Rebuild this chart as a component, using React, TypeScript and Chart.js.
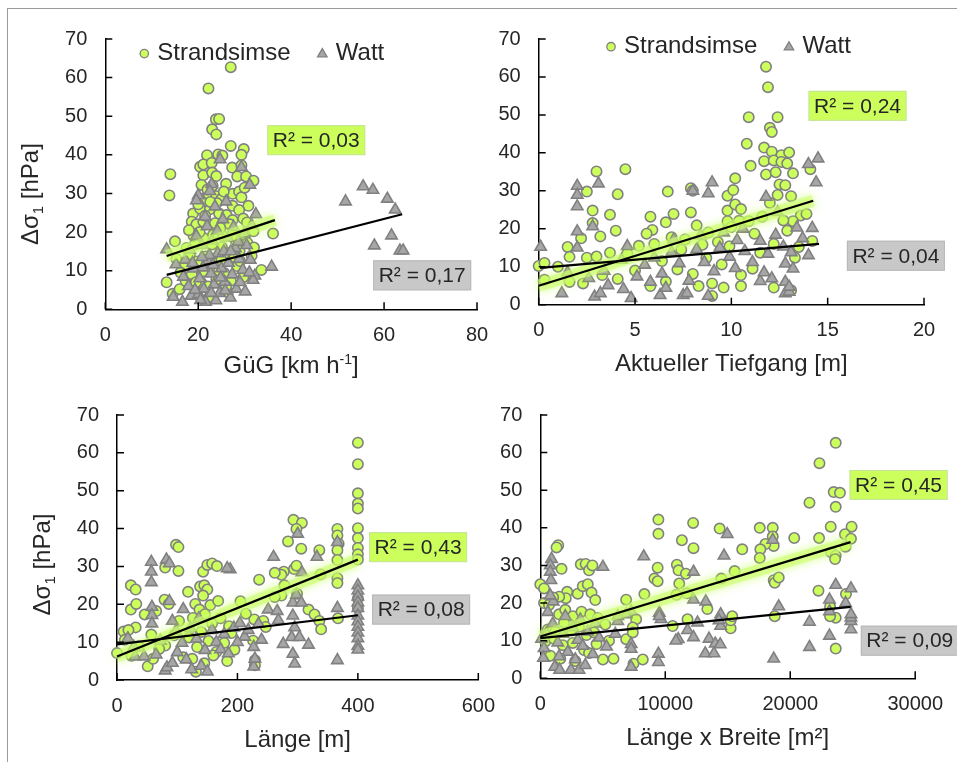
import React, { useEffect, useRef } from "react";
import { Chart, registerables } from "chart.js";
Chart.register(...registerables);

const FONT = '"Liberation Sans", Arial, Helvetica, sans-serif';
const TEXT = "#262626";
const LIME = "rgb(204,255,92)";
const MARK_BORDER = "#808080";
const WATT_FILL = "#a6a6a6";

type Pt = [number, number];

// ---------- Data: GüG [km h-1] ----------
const gugStrandsimse: Pt[] = [
  [27.0,62.7],[22.2,57.2],[23.8,49.2],[24.5,49.3],[23.0,46.6],[23.9,45.3],[27.0,42.3],[29.8,41.5],[21.9,39.9],[24.3,40.1],
  [25.2,39.8],[29.3,40.0],[20.4,36.9],[21.1,37.5],[22.9,37.9],[27.3,36.7],[29.3,37.3],[14.0,35.0],[21.1,34.7],[23.0,35.4],
  [23.9,34.5],[28.4,34.4],[30.3,34.4],[31.9,33.3],[13.8,29.5],[20.7,32.2],[23.1,32.0],[27.4,29.9],[28.8,30.5],[29.3,29.0],
  [30.8,26.8],[21.1,28.6],[22.2,29.9],[23.9,29.3],[25.0,28.6],[18.9,24.8],[20.4,26.1],[22.5,25.9],[24.5,24.8],[27.4,26.8],
  [28.8,25.7],[15.0,17.6],[18.6,22.7],[19.6,22.0],[21.1,22.7],[23.6,22.3],[26.1,24.4],[27.4,23.1],[29.7,23.5],[31.9,20.2],
  [36.1,19.6],[17.5,15.9],[19.3,16.8],[21.1,18.5],[23.2,19.3],[25.4,18.9],[27.5,20.2],[30.0,19.3],[15.3,13.0],[13.2,7.0],
  [33.6,10.2],[29.7,8.3],[14.5,4.0],[16.0,5.2],[17.3,7.3],[18.6,9.1],[20.7,6.8],[22.1,5.9],[23.9,7.7],[25.6,9.4],
  [27.0,7.4],[28.4,11.2],[19.8,12.4],[21.6,13.7],[24.1,12.1],[26.3,14.6],[28.9,15.1],[31.5,13.9],[17.0,11.3],[22.8,10.3],
  [25.1,16.1],[20.3,20.0],[24.8,21.1],[30.6,17.2],[32.0,16.0],[18.2,14.2],[22.4,3.2],[26.4,4.4],[16.2,9.5],[29.0,12.5],
  [20.0,27.2],[26.0,32.5],[24.0,27.5],[22.0,31.0],[25.5,30.5],[30.0,31.5],[21.5,24.2],[26.8,22.0],[19.0,19.0],[23.0,16.8],
  [28.0,18.0],[25.0,12.8],[27.8,13.5],[21.0,9.8],[24.5,10.0],[19.5,7.0],[26.0,6.0],[30.5,22.5],[18.0,20.5],[22.6,27.8]
];
const gugWatt: Pt[] = [
  [55.5,31.8],[57.6,30.9],[60.7,28.6],[51.7,27.9],[62.4,25.8],[61.6,19.1],[57.9,16.5],[63.4,15.2],[64.1,15.2],[35.8,11.0],
  [32.4,24.6],[31.1,32.2],[29.3,36.8],[24.7,38.8],[22.9,32.4],[20.0,29.5],[19.6,28.2],[13.2,15.5],[14.6,3.2],[16.6,1.9],
  [18.5,3.5],[20.1,3.9],[21.6,1.9],[23.8,2.3],[28.2,5.3],[32.2,8.7],[15.2,11.6],[16.8,8.4],[17.9,6.0],[19.0,10.5],
  [20.3,8.0],[21.2,5.3],[22.0,12.6],[22.7,9.2],[23.4,6.4],[24.2,14.5],[25.0,10.6],[25.7,7.1],[26.5,12.0],[27.3,9.0],
  [28.0,15.8],[28.8,13.0],[29.6,10.2],[30.4,16.6],[31.2,12.8],[31.8,7.6],[18.2,15.4],[19.6,19.0],[20.8,16.6],[21.9,21.5],
  [23.0,17.8],[24.1,20.3],[25.3,23.3],[26.4,18.5],[27.6,21.3],[28.6,17.5],[29.9,19.6],[31.5,21.8],[21.5,24.0],[23.6,26.6],
  [26.0,27.9],[22.4,14.0],[24.6,4.2],[26.9,3.0],[19.3,5.0],[17.2,12.8],[30.1,4.6],[25.5,15.0],[22.5,30.6],[20.8,13.5],
  [18.8,12.0],[21.0,10.8],[23.2,11.5],[24.8,8.2],[27.0,15.0],[29.0,7.0],[20.5,2.4],[22.8,4.2],[25.8,4.8],[31.0,9.5]
];
const gugTrendStrandsimse: Pt[] = [[13.2,13.8],[36.5,23.1]];
const gugTrendWatt: Pt[] = [[13.2,8.9],[63.9,24.6]];

// ---------- Data: Aktueller Tiefgang [m] ----------
const tiefgangStrandsimse: Pt[] = [
  [11.8,62.7],[11.9,57.3],[10.9,49.4],[12.4,49.4],[12.0,46.6],[12.1,45.5],[10.8,42.4],[11.7,41.4],[12.1,40.3],[12.6,39.4],
  [13.0,40.1],[11.7,37.8],[12.2,38.0],[12.6,37.6],[12.9,37.2],[11.0,36.6],[4.5,35.7],[3.0,35.1],[13.2,34.6],[14.1,35.7],
  [11.8,34.3],[12.3,34.9],[10.2,33.3],[12.5,31.7],[12.8,31.5],[13.1,28.6],[12.4,28.9],[2.5,29.8],[4.1,29.1],[6.7,29.8],
  [7.9,30.7],[8.0,30.0],[9.8,28.7],[10.1,30.2],[2.8,24.8],[3.7,23.7],[5.8,23.2],[7.9,24.3],[7.0,23.9],[6.6,21.7],
  [2.8,21.5],[3.2,18.0],[4.0,19.5],[5.9,19.7],[5.6,18.7],[1.5,15.2],[1.6,12.6],[2.2,17.5],[2.5,12.4],[3.0,12.7],
  [3.7,13.7],[9.8,24.8],[10.2,26.4],[10.5,25.2],[9.8,22.0],[10.4,22.1],[10.9,22.0],[0.0,10.2],[0.3,11.0],[1.0,10.0],
  [0.3,6.6],[1.6,6.0],[2.3,5.6],[5.8,4.9],[8.3,4.9],[9.0,2.3],[9.0,5.6],[9.6,4.5],[10.5,4.9],[12.2,4.5],
  [13.1,3.8],[13.6,23.5],[13.2,22.0],[12.7,22.2],[12.2,16.0],[13.5,15.2],[13.3,12.4],[14.2,16.8],[11.2,18.7],[11.1,9.5],
  [10.5,7.8],[4.6,13.5],[5.2,15.5],[6.0,16.0],[6.9,17.8],[7.4,14.5],[8.2,20.9],[8.8,19.0],[9.3,16.5],[9.9,15.4],
  [6.4,11.5],[7.2,9.3],[8.0,8.1],[8.7,12.3],[9.5,10.6],[5.0,9.0],[4.1,6.8],[3.3,7.8],[6.6,6.1],[7.6,17.2],
  [8.5,15.8],[10.0,20.5],[11.5,13.7],[12.9,19.5],[13.9,23.9],[12.0,26.8],[11.6,23.2]
];
const tiefgangWatt: Pt[] = [
  [14.5,38.5],[14.0,37.0],[14.4,32.2],[3.1,31.9],[2.0,31.3],[2.0,28.9],[2.0,25.9],[9.0,32.2],[8.8,29.3],[8.0,30.0],
  [11.8,28.4],[2.8,20.6],[2.0,19.3],[2.0,15.0],[0.1,15.2],[14.2,20.2],[14.0,13.0],[1.2,3.0],[2.9,2.1],[3.2,3.0],
  [3.6,5.1],[4.8,1.7],[6.3,2.5],[7.5,2.5],[7.7,3.0],[8.8,2.3],[11.5,6.2],[12.1,6.9],[12.8,10.8],[12.8,3.0],
  [13.0,3.4],[13.2,9.5],[12.8,6.0],[13.0,4.7],[1.5,8.5],[2.6,7.0],[3.4,8.9],[4.3,11.8],[4.6,15.4],[5.1,7.4],
  [5.5,10.5],[6.0,12.4],[6.4,8.2],[6.9,13.8],[7.3,10.9],[7.8,6.3],[8.2,14.6],[8.6,11.2],[9.1,8.8],[9.4,15.0],
  [9.9,12.6],[10.3,17.0],[10.7,14.1],[11.1,11.2],[11.5,16.8],[11.9,13.4],[12.3,18.4],[12.7,15.3],[13.1,13.8],[13.4,20.3],
  [10.6,20.0],[9.6,19.0],[7.0,17.1],[5.8,6.0],[6.6,4.4],[4.4,4.1],[10.2,9.6],[11.7,8.5],[13.7,17.5],[12.4,24.4],
  [8.4,18.2]
];
const tiefgangTrendStrandsimse: Pt[] = [[0,5.0],[14.25,27.4]];
const tiefgangTrendWatt: Pt[] = [[0.07,9.7],[14.55,16.0]];

// ---------- Data: Länge [m] ----------
const laengeStrandsimse: Pt[] = [
  [400,62.7],[400,57.0],[400,49.3],[400,46.6],[400,45.3],[400,40.1],[400,37.5],[400,34.9],[400,33.2],[400,31.8],
  [400,21.5],[400,19.0],[366,39.9],[366,38.2],[368,36.0],[366,34.3],[366,31.7],[366,26.9],[366,25.6],[367,16.3],
  [293,42.3],[307,41.5],[298,39.9],[284,36.6],[306,34.7],[336,34.3],[277,28.6],[273,27.8],[294,29.3],[298,30.2],
  [338,27.9],[278,25.0],[299,22.8],[273,22.3],[262,21.9],[236,26.5],[318,18.6],[328,17.3],[336,15.6],[339,13.4],
  [228,16.0],[243,15.6],[247,14.0],[226,10.4],[229,5.2],[229,3.9],[98,35.7],[102,35.1],[80,29.7],[102,28.8],
  [143,28.6],[150,30.4],[158,30.8],[166,30.1],[23,25.0],[31,23.9],[23,18.6],[32,20.1],[31,13.9],[11,12.8],
  [19,13.2],[46,17.3],[65,18.2],[79,21.2],[86,20.1],[0,7.1],[13,10.6],[24,6.4],[51,3.6],[60,5.6],
  [80,9.1],[103,15.6],[131,2.2],[183,5.0],[118,23.3],[130,20.1],[138,24.7],[145,25.0],[150,23.9],[143,22.3],
  [155,19.8],[168,20.9],[126,16.4],[137,18.6],[146,17.4],[158,14.9],[172,16.3],[186,14.2],[120,11.2],[133,8.7],
  [140,12.7],[152,10.3],[165,7.4],[178,9.8],[190,12.4],[110,6.0],[125,5.6],[145,4.4],[160,6.5],[95,11.8],
  [70,8.2],[57,12.0],[36,8.9],[205,20.8],[214,17.5],[195,8.0],[262,28.3]
];
const laengeWatt: Pt[] = [
  [400,25.0],[400,23.6],[400,22.0],[400,20.5],[400,19.0],[400,17.0],[400,15.5],[400,14.0],[400,12.5],[400,11.0],
  [400,9.0],[400,8.0],[366,5.2],[366,19.0],[366,36.4],[300,38.6],[307,28.4],[292,20.4],[298,22.5],[306,20.4],
  [292,17.0],[295,13.9],[290,11.3],[292,6.9],[295,4.3],[303,11.3],[318,9.3],[276,9.5],[332,32.5],[260,32.5],
  [251,18.6],[266,18.2],[268,15.8],[227,8.7],[227,3.5],[229,5.6],[188,29.2],[183,29.5],[57,31.2],[57,28.6],
  [57,25.8],[82,31.8],[87,30.8],[58,19.3],[58,17.1],[58,14.9],[87,20.8],[92,15.6],[28,8.8],[30,6.2],
  [80,2.5],[83,3.3],[92,4.5],[100,7.3],[108,9.8],[115,5.4],[124,2.8],[132,10.9],[140,3.7],[146,7.9],
  [150,2.2],[158,13.2],[165,10.0],[172,8.1],[178,12.1],[185,7.0],[194,13.8],[204,15.0],[212,11.4],[218,13.2],
  [235,14.8],[240,10.6],[122,13.6],[136,16.3],[110,18.7],[98,13.0],[72,10.4],[65,6.7],[45,6.2],[18,11.0],
  [200,10.0]
];
const laengeTrendStrandsimse: Pt[] = [[0,6.2],[400,31.8]];
const laengeTrendWatt: Pt[] = [[0,9.4],[400,17.1]];

// ---------- Data: Länge x Breite [m²] ----------
const flaecheStrandsimse: Pt[] = [
  [23640,62.6],[22340,57.2],[21540,46.7],[23480,49.5],[23980,49.3],[23640,45.6],[22310,37.3],[23240,40.3],[24910,40.3],[24380,38.3],
  [24860,37.1],[24430,35.0],[23270,33.5],[23640,32.6],[23590,31.7],[20320,37.3],[18600,40.0],[18600,37.7],[18680,35.2],[17560,40.0],
  [18010,35.7],[17610,34.3],[17560,32.0],[16160,34.3],[15550,28.5],[14480,26.5],[14350,39.8],[11330,36.7],[12230,41.3],[12260,34.6],
  [10930,30.2],[11060,28.7],[11650,27.8],[11120,25.2],[11730,22.6],[10900,22.2],[9450,42.2],[9450,38.4],[9390,29.4],[9130,26.5],
  [9390,25.8],[8330,22.4],[18680,26.1],[18760,25.4],[19080,26.8],[22260,23.3],[24460,22.4],[23190,19.0],[23640,16.1],[23190,16.5],
  [23640,7.9],[18760,16.5],[15230,13.3],[15230,15.4],[15360,16.5],[13370,18.4],[11780,15.7],[10590,13.9],[7670,15.7],[6870,20.9],
  [6870,10.4],[7400,13.5],[7400,12.2],[7460,3.9],[8200,5.0],[5860,5.2],[5010,5.0],[0,25.0],[300,23.9],[1430,35.4],
  [1300,34.8],[1700,29.1],[3240,30.3],[3630,30.4],[3900,28.7],[4170,30.0],[3000,22.5],[3400,24.5],[3800,25.0],[4100,22.8],
  [4400,20.8],[2150,23.0],[2040,21.3],[1510,21.7],[1030,21.5],[300,20.0],[700,19.5],[1500,17.0],[2000,18.2],[2600,16.5],
  [3300,17.7],[4000,17.0],[4600,16.0],[5200,14.3],[600,13.0],[1200,12.5],[1900,14.8],[2500,12.8],[3100,13.7],[3700,11.5],
  [4300,12.2],[400,9.8],[1100,10.5],[1800,8.8],[2600,9.4],[3500,7.5],[4500,9.1],[800,6.0],[1600,5.2],[2800,4.6],
  [3900,6.7],[5500,10.0]
];
const flaecheWatt: Pt[] = [
  [24860,13.0],[24860,15.2],[24860,16.1],[24860,17.0],[24860,23.9],[23640,24.8],[24430,20.0],[23140,20.9],[23140,17.8],[23140,11.3],
  [21540,15.0],[21540,8.3],[18680,5.2],[19080,19.1],[18600,36.8],[14960,38.3],[14700,32.6],[12260,28.3],[12260,20.9],[13240,20.4],
  [11780,12.8],[12260,10.9],[12580,14.8],[11040,10.4],[10850,10.0],[14430,17.0],[14430,13.9],[14300,15.4],[13500,10.5],[14000,9.2],
  [14400,9.0],[13200,6.6],[13900,6.6],[9520,17.4],[9660,15.7],[9520,16.5],[9450,6.5],[9450,4.3],[8280,32.4],[7270,3.0],
  [7270,9.1],[7270,7.8],[7270,17.8],[6870,17.0],[6200,15.2],[6200,16.5],[5010,29.6],[900,31.7],[800,30.0],[800,28.3],
  [850,26.1],[1030,20.4],[800,22.0],[300,8.0],[250,5.4],[1150,3.0],[1550,2.2],[2450,2.2],[3100,2.2],[500,12.0],
  [1000,14.5],[1400,9.5],[1800,11.8],[2200,7.0],[2600,13.5],[3000,10.2],[3400,8.6],[3800,12.4],[4200,6.4],[4700,10.8],
  [5300,8.4],[2000,16.5],[3200,15.6],[4400,14.5],[600,17.6],[1500,5.8],[2800,5.0],[3600,3.5],[100,10.5],[6000,11.8]
];
const flaecheTrendStrandsimse: Pt[] = [[0,11.1],[24830,36.2]];
const flaecheTrendWatt: Pt[] = [[0,10.7],[24830,19.0]];

// ---------- Labels ----------
const seriesNames = ["Strandsimse", "Watt"];
const r2Strandsimse = ["R² = 0,03", "R² = 0,24", "R² = 0,43", "R² = 0,45"];
const r2Watt = ["R² = 0,17", "R² = 0,04", "R² = 0,08", "R² = 0,09"];
const xMaxima = [80, 20, 600, 30000];
const xSteps = [20, 5, 200, 10000];
const yMax = 70;
const yStep = 10;

type Seg = { t: string; size: number; dy: number };

const yTitleSegs: Seg[] = [
  { t: "Δσ", size: 24, dy: 0 },
  { t: "1", size: 15, dy: 5 },
  { t: " [hPa]", size: 24, dy: 0 },
];
const xTitles: Seg[][] = [
  [{ t: "GüG [km h", size: 24, dy: 0 }, { t: "-1", size: 14, dy: -9 }, { t: "]", size: 24, dy: 0 }],
  [{ t: "Aktueller Tiefgang [m]", size: 24, dy: 0 }],
  [{ t: "Länge [m]", size: 24, dy: 0 }],
  [{ t: "Länge x Breite [m²]", size: 24, dy: 0 }],
];

interface PanelCfg {
  left: number; top: number; width: number; height: number;
  yAxisW: number; padRight: number; padTop: number; xAxisH: number;
  xMax: number; xStep: number;
  strand: Pt[]; watt: Pt[]; trendS: Pt[]; trendW: Pt[];
  r2S: string; r2W: string; r2SPos: Pt; r2WPos: Pt;
  xTitle: Seg[]; xTitleDy: number;
  yTitle: boolean; yTitleDy: number;
  legend: { dx: number; dy: number } | null;
}

const panels: PanelCfg[] = [
  {
    left: 9, top: 9, width: 500, height: 380, yAxisW: 96.3, padRight: 32, padTop: 24.7, xAxisH: 79.7,
    xMax: xMaxima[0], xStep: xSteps[0], strand: gugStrandsimse, watt: gugWatt,
    trendS: gugTrendStrandsimse, trendW: gugTrendWatt,
    r2S: r2Strandsimse[0], r2W: r2Watt[0], r2SPos: [45.4, 43.8], r2WPos: [68.2, 8.8],
    xTitle: xTitles[0], xTitleDy: 55, yTitle: true, yTitleDy: 20, legend: { dx: 39, dy: 14.6 },
  },
  {
    left: 490, top: 9, width: 467, height: 380, yAxisW: 48.7, padRight: 33, padTop: 28.3, xAxisH: 84.3,
    xMax: xMaxima[1], xStep: xSteps[1], strand: tiefgangStrandsimse, watt: tiefgangWatt,
    trendS: tiefgangTrendStrandsimse, trendW: tiefgangTrendWatt,
    r2S: r2Strandsimse[1], r2W: r2Watt[1], r2SPos: [16.55, 52.4], r2WPos: [18.54, 12.9],
    xTitle: xTitles[1], xTitleDy: 58, yTitle: false, yTitleDy: 0, legend: { dx: 72.3, dy: 7.7 },
  },
  {
    left: 9, top: 385, width: 500, height: 377, yAxisW: 108, padRight: 26.3, padTop: 26, xAxisH: 82,
    xMax: xMaxima[2], xStep: xSteps[2], strand: laengeStrandsimse, watt: laengeWatt,
    trendS: laengeTrendStrandsimse, trendW: laengeTrendWatt,
    r2S: r2Strandsimse[2], r2W: r2Watt[2], r2SPos: [500, 35.1], r2WPos: [505, 18.6],
    xTitle: xTitles[2], xTitleDy: 58, yTitle: true, yTitleDy: 17, legend: null,
  },
  {
    left: 490, top: 385, width: 467, height: 377, yAxisW: 50.3, padRight: 39.3, padTop: 24.3, xAxisH: 83.7,
    xMax: xMaxima[3], xStep: xSteps[3], strand: flaecheStrandsimse, watt: flaecheWatt,
    trendS: flaecheTrendStrandsimse, trendW: flaecheTrendWatt,
    r2S: r2Strandsimse[3], r2W: r2Watt[3], r2SPos: [28670, 51.4], r2WPos: [29570, 10.0],
    xTitle: xTitles[3], xTitleDy: 58, yTitle: false, yTitleDy: 0, legend: null,
  },
];

function drawSegs(ctx: CanvasRenderingContext2D, segs: Seg[], cx: number, cy: number, rot: number) {
  ctx.save();
  ctx.translate(cx, cy);
  ctx.rotate(rot);
  const base = segs[0].size * 0.36;
  let total = 0;
  const widths = segs.map((s) => {
    ctx.font = `${s.size}px ${FONT}`;
    const w = ctx.measureText(s.t).width;
    total += w;
    return w;
  });
  let x = -total / 2;
  ctx.textAlign = "left";
  ctx.textBaseline = "alphabetic";
  ctx.fillStyle = TEXT;
  segs.forEach((s, i) => {
    ctx.font = `${s.size}px ${FONT}`;
    ctx.fillText(s.t, x, base + s.dy);
    x += widths[i];
  });
  ctx.restore();
}

function triangle(ctx: CanvasRenderingContext2D, x: number, y: number, r: number) {
  ctx.beginPath();
  for (let k = 0; k < 3; k++) {
    const a = (k * 2 * Math.PI) / 3;
    const px = x + Math.sin(a) * r;
    const py = y - Math.cos(a) * r;
    if (k === 0) ctx.moveTo(px, py);
    else ctx.lineTo(px, py);
  }
  ctx.closePath();
}

function makeDecor(cfg: PanelCfg) {
  return {
    id: "decor",
    beforeDatasetDraw(chart: any, args: any) {
      const ds = chart.data.datasets[args.index];
      if (ds.glow) {
        const c = chart.ctx;
        c.save();
        c.shadowColor = "rgba(190,255,70,0.95)";
        c.shadowBlur = 10;
      }
    },
    afterDatasetDraw(chart: any, args: any) {
      if (chart.data.datasets[args.index].glow) chart.ctx.restore();
    },
    afterDraw(chart: any) {
      const ctx: CanvasRenderingContext2D = chart.ctx;
      const a = chart.chartArea;
      const xs = chart.scales.x;
      const ys = chart.scales.y;
      ctx.save();
      // inward tick marks
      ctx.strokeStyle = "#000";
      ctx.lineWidth = 1.5;
      ctx.beginPath();
      xs.ticks.forEach((t: any) => {
        const px = xs.getPixelForValue(t.value);
        ctx.moveTo(px, a.bottom);
        ctx.lineTo(px, a.bottom - 7);
      });
      ys.ticks.forEach((t: any) => {
        const py = ys.getPixelForValue(t.value);
        ctx.moveTo(a.left, py);
        ctx.lineTo(a.left + 7, py);
      });
      ctx.stroke();

      // R² boxes
      const box = (txt: string, pos: Pt, fill: string, stroke: string) => {
        const px = xs.getPixelForValue(pos[0]);
        const py = ys.getPixelForValue(pos[1]);
        const w = 98, h = 30;
        ctx.fillStyle = fill;
        ctx.fillRect(px - w / 2, py - h / 2, w, h);
        ctx.strokeStyle = stroke;
        ctx.lineWidth = 1;
        ctx.strokeRect(px - w / 2 + 0.5, py - h / 2 + 0.5, w - 1, h - 1);
        ctx.fillStyle = TEXT;
        ctx.font = `21px ${FONT}`;
        ctx.textAlign = "center";
        ctx.textBaseline = "middle";
        ctx.fillText(txt, px, py + 1);
      };
      box(cfg.r2S, cfg.r2SPos, LIME, "rgb(200,225,160)");
      box(cfg.r2W, cfg.r2WPos, "#c8c8c8", "#b8b8b8");

      // legend
      if (cfg.legend) {
        const lx = a.left + cfg.legend.dx;
        const ly = a.top + cfg.legend.dy;
        ctx.beginPath();
        ctx.arc(lx, ly, 4.2, 0, Math.PI * 2);
        ctx.fillStyle = LIME;
        ctx.fill();
        ctx.strokeStyle = MARK_BORDER;
        ctx.lineWidth = 1.3;
        ctx.stroke();
        ctx.fillStyle = TEXT;
        ctx.font = `24px ${FONT}`;
        ctx.textAlign = "left";
        ctx.textBaseline = "middle";
        ctx.fillText(seriesNames[0], lx + 13, ly);
        const tx = lx + 178;
        triangle(ctx, tx, ly + 0.5, 5.5);
        ctx.fillStyle = WATT_FILL;
        ctx.fill();
        ctx.strokeStyle = MARK_BORDER;
        ctx.stroke();
        ctx.fillStyle = TEXT;
        ctx.fillText(seriesNames[1], tx + 13.5, ly);
      }

      // axis titles
      drawSegs(ctx, cfg.xTitle, (a.left + a.right) / 2, a.bottom + cfg.xTitleDy, 0);
      if (cfg.yTitle) {
        drawSegs(ctx, yTitleSegs, a.left - 76, (a.top + a.bottom) / 2 + cfg.yTitleDy, -Math.PI / 2);
      }
      ctx.restore();
    },
  };
}

const toXY = (pts: Pt[]) => pts.map(([x, y]) => ({ x, y }));

function Panel({ cfg }: { cfg: PanelCfg }) {
  const ref = useRef<HTMLCanvasElement | null>(null);
  useEffect(() => {
    if (!ref.current) return;
    const tickFont = { family: FONT, size: 20 };
    const chart = new Chart(ref.current, {
      type: "scatter",
      data: {
        datasets: [
          { label: "trendS", data: toXY(cfg.trendS), showLine: true, borderColor: "#000", borderWidth: 2.2, pointRadius: 0, order: 0, clip: false } as any,
          { label: "trendW", data: toXY(cfg.trendW), showLine: true, borderColor: "#000", borderWidth: 2.2, pointRadius: 0, order: 0, clip: false } as any,
          { label: "glow", data: toXY(cfg.trendS), showLine: true, borderColor: "rgba(205,255,110,0.6)", borderWidth: 12, pointRadius: 0, order: 1, clip: false, glow: true } as any,
          { label: seriesNames[1], data: toXY(cfg.watt), pointStyle: "triangle", pointRadius: 6.6, backgroundColor: WATT_FILL, borderColor: MARK_BORDER, borderWidth: 1.6, order: 2, clip: false } as any,
          { label: seriesNames[0], data: toXY(cfg.strand), pointStyle: "circle", pointRadius: 5.2, backgroundColor: LIME, borderColor: MARK_BORDER, borderWidth: 1.6, order: 3, clip: false } as any,
        ],
      },
      options: {
        responsive: false,
        animation: false,
        events: [],
        layout: { padding: { left: 0, right: cfg.padRight, top: cfg.padTop, bottom: 0 } },
        plugins: { legend: { display: false }, tooltip: { enabled: false } },
        scales: {
          x: {
            type: "linear",
            min: 0,
            max: cfg.xMax,
            ticks: { stepSize: cfg.xStep, color: TEXT, font: tickFont, padding: 14, maxRotation: 0, autoSkip: false, callback: (v: any) => String(v) },
            grid: { display: false, drawTicks: false },
            border: { display: true, color: "#000", width: 1.5 },
            afterFit: (s: any) => { s.height = cfg.xAxisH; },
          },
          y: {
            type: "linear",
            min: 0,
            max: yMax,
            ticks: { stepSize: yStep, color: TEXT, font: tickFont, padding: 18, autoSkip: false, callback: (v: any) => String(v) },
            grid: { display: false, drawTicks: false },
            border: { display: true, color: "#000", width: 1.5 },
            afterFit: (s: any) => { s.width = cfg.yAxisW; },
          },
        },
      } as any,
      plugins: [makeDecor(cfg) as any],
    });
    return () => chart.destroy();
  }, [cfg]);
  return (
    <canvas
      ref={ref}
      width={cfg.width}
      height={cfg.height}
      style={{ position: "absolute", left: cfg.left, top: cfg.top, width: cfg.width, height: cfg.height }}
    />
  );
}

export default function App() {
  return (
    <div style={{ position: "fixed", left: 0, top: 0, width: 957, height: 762, overflow: "hidden", background: "#fff" }}>
      <div
        style={{
          position: "absolute", left: 7, top: 8, width: 960, height: 770,
          borderTop: "1.5px solid #9a9a9a", borderLeft: "1.5px solid #9a9a9a", boxSizing: "border-box",
        }}
      />
      {panels.map((p, i) => (
        <Panel key={i} cfg={p} />
      ))}
    </div>
  );
}
